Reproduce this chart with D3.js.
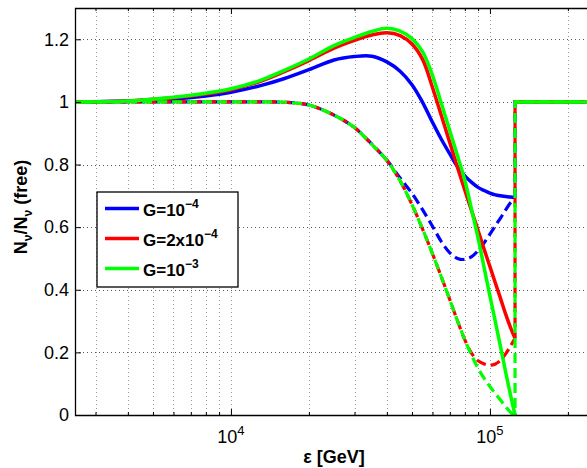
<!DOCTYPE html>
<html>
<head>
<meta charset="utf-8">
<script src="https://cdn.jsdelivr.net/npm/d3@7"></script>
<style>
  body { margin: 0; background: #fff; }
  svg { font-family: "Liberation Sans", Arial, sans-serif; }
</style>
</head>
<body>
<svg width="587" height="468"></svg>
<script>
// energies in GeV
var energy = [2500, 4000, 6000, 8000, 10000, 13000, 16000, 20000, 25000, 30000, 35000, 40000, 45000,
              50000, 55000, 60000, 65000, 70000, 75000, 80000, 85000, 90000, 95000, 100000,
              105000, 110000, 115000, 120000, 125000];

var solidBlue  = [1.0, 1.003, 1.009, 1.019, 1.031, 1.052, 1.074, 1.103, 1.134, 1.145, 1.146, 1.128, 1.098,
                  1.055, 0.998, 0.935, 0.88, 0.834, 0.793, 0.764, 0.743, 0.727, 0.717, 0.709,
                  0.703, 0.70, 0.698, 0.696, 0.695];
var solidRed   = [1.0, 1.003, 1.013, 1.025, 1.039, 1.066, 1.096, 1.132, 1.172, 1.197, 1.214, 1.221, 1.212,
                  1.185, 1.135, 1.046, 0.955, 0.87, 0.79, 0.718, 0.652, 0.589, 0.529, 0.474,
                  0.421, 0.371, 0.322, 0.28, 0.245];
var solidGreen = [1.0, 1.003, 1.015, 1.028, 1.042, 1.069, 1.10, 1.137, 1.18, 1.206, 1.225, 1.235, 1.226,
                  1.202, 1.16, 1.085, 0.994, 0.908, 0.827, 0.75, 0.655, 0.565, 0.47, 0.38,
                  0.297, 0.216, 0.137, 0.065, 0];

var dashedBlue  = [1, 1, 1, 1, 1, 1, 0.999, 0.99, 0.958, 0.918, 0.865, 0.814, 0.757,
                   0.708, 0.655, 0.603, 0.553, 0.518, 0.50, 0.497, 0.506, 0.525, 0.55, 0.578,
                   0.605, 0.63, 0.655, 0.678, 0.695];
var dashedRed   = [1, 1, 1, 1, 1, 1, 0.999, 0.99, 0.958, 0.918, 0.864, 0.813, 0.748,
                   0.672, 0.593, 0.515, 0.44, 0.368, 0.30, 0.24, 0.197, 0.173, 0.163, 0.159,
                   0.163, 0.175, 0.195, 0.22, 0.245];
var dashedGreen = [1, 1, 1, 1, 1, 1, 0.999, 0.99, 0.958, 0.918, 0.864, 0.813, 0.748,
                   0.672, 0.593, 0.515, 0.44, 0.368, 0.30, 0.24, 0.19, 0.149, 0.117, 0.091,
                   0.068, 0.047, 0.027, 0.009, 0];

// above the cut-off every curve is back to 1
var tailEnergy = [125000, 250000];
var tailValue = [1, 1];

var yTicks = [0, 0.2, 0.4, 0.6, 0.8, 1, 1.2];
var xMajor = [1e4, 1e5];
var xMinor = [3000, 4000, 5000, 6000, 7000, 8000, 9000, 20000, 30000, 40000, 50000, 60000,
              70000, 80000, 90000, 200000];
var legendLabels = [["G=10", "\u22124"], ["G=2x10", "\u22124"], ["G=10", "\u22123"]];

var series = [
  { color: "#0000ff", solid: solidBlue, dashed: dashedBlue, offset: 0 },
  { color: "#ff0000", solid: solidRed, dashed: dashedRed, offset: 4 },
  { color: "#00ff00", solid: solidGreen, dashed: dashedGreen, offset: 8 }
];

var svg = d3.select("svg"),
    plotLeft = 75, plotRight = 593, plotTop = 8, plotBottom = 415;

var x = d3.scaleLog().domain([2500, 250000]).range([plotLeft, plotRight]),
    y = d3.scaleLinear().domain([0, 1.3]).range([plotBottom, plotTop]);

// grid
var grid = svg.append("g").attr("stroke", "#555").attr("stroke-width", 1).attr("stroke-dasharray", "1,3");
grid.selectAll(".hg").data(yTicks).enter().append("line")
    .attr("x1", plotLeft).attr("x2", plotRight)
    .attr("y1", function(d) { return Math.round(y(d)) + 0.5; })
    .attr("y2", function(d) { return Math.round(y(d)) + 0.5; });
grid.selectAll(".vg").data(xMajor.concat(xMinor)).enter().append("line")
    .attr("stroke", "#999")
    .attr("y1", plotTop).attr("y2", plotBottom)
    .attr("x1", function(d) { return Math.round(x(d)) + 0.5; })
    .attr("x2", function(d) { return Math.round(x(d)) + 0.5; });

// curves
var line = d3.line()
    .x(function(d) { return x(d[0]); })
    .y(function(d) { return y(d[1]); })
    .curve(d3.curveCatmullRom.alpha(0.5));
var straight = d3.line()
    .x(function(d) { return x(d[0]); })
    .y(function(d) { return y(d[1]); });

var tail = tailEnergy.map(function(e, i) { return [e, tailValue[i]]; });

series.forEach(function(s) {
  var solidPts = energy.map(function(e, i) { return [e, s.solid[i]]; });
  var dashPts = energy.map(function(e, i) { return [e, s.dashed[i]]; });
  svg.append("path").attr("d", line(solidPts))
     .attr("fill", "none").attr("stroke", s.color).attr("stroke-width", 3.5);
  svg.append("path").attr("d", straight(tail))
     .attr("fill", "none").attr("stroke", s.color).attr("stroke-width", 3.5);
  svg.append("path").attr("d", line(dashPts))
     .attr("fill", "none").attr("stroke", s.color).attr("stroke-width", 3.2)
     .attr("stroke-dasharray", "10,5").attr("stroke-dashoffset", s.offset);
  svg.append("path").attr("d", straight([dashPts[dashPts.length - 1]].concat(tail)))
     .attr("fill", "none").attr("stroke", s.color).attr("stroke-width", 3.2)
     .attr("stroke-dasharray", "10,5").attr("stroke-dashoffset", s.offset);
});

// axes (ticks inside, matlab style)
svg.append("g")
   .attr("transform", "translate(" + plotLeft + ",0)")
   .call(d3.axisLeft(y).tickValues(yTicks).tickSizeInner(-6).tickSizeOuter(0).tickPadding(6)
         .tickFormat(function(d) { return d; }))
   .call(function(g) { g.select(".domain").remove(); })
   .call(function(g) { g.selectAll("text").attr("font-size", "18px").attr("fill", "#000")
                         .attr("font-family", "Liberation Sans, Arial, sans-serif"); });

svg.append("g")
   .attr("transform", "translate(0," + plotBottom + ")")
   .call(d3.axisBottom(x).tickValues(xMajor).tickSizeInner(-6).tickSizeOuter(0).tickFormat(""))
   .call(function(g) { g.select(".domain").remove(); });
svg.append("g")
   .attr("transform", "translate(0," + plotBottom + ")")
   .call(d3.axisBottom(x).tickValues(xMinor).tickSizeInner(-3).tickSizeOuter(0).tickFormat(""))
   .call(function(g) { g.select(".domain").remove(); });
svg.append("g")
   .attr("transform", "translate(0," + plotTop + ")")
   .call(d3.axisTop(x).tickValues(xMajor).tickSizeInner(-6).tickSizeOuter(0).tickFormat(""))
   .call(function(g) { g.select(".domain").remove(); });
svg.append("g")
   .attr("transform", "translate(0," + plotTop + ")")
   .call(d3.axisTop(x).tickValues(xMinor).tickSizeInner(-3).tickSizeOuter(0).tickFormat(""))
   .call(function(g) { g.select(".domain").remove(); });

// box
svg.append("path")
   .attr("d", "M" + plotRight + "," + (plotTop + 0.5) + "H" + (plotLeft + 0.5) + "V" + (plotBottom + 0.5) + "H" + plotRight)
   .attr("fill", "none").attr("stroke", "#000").attr("stroke-width", 1.3);

// x tick labels 10^n
xMajor.forEach(function(d) {
  var t = svg.append("text").attr("x", x(d)).attr("y", 443)
     .attr("text-anchor", "middle").attr("font-size", "18px");
  t.append("tspan").text("10");
  t.append("tspan").attr("dy", -8).attr("font-size", "13px").text(Math.round(Math.log10(d)));
});

// axis titles
svg.append("text").attr("x", 334).attr("y", 463).attr("text-anchor", "middle")
   .attr("font-size", "18px").attr("font-weight", "bold").text("\u03b5 [GeV]");

var yl = svg.append("text").attr("transform", "translate(27,207) rotate(-90)")
   .attr("text-anchor", "middle").attr("font-size", "18px").attr("font-weight", "bold");
yl.append("tspan").text("N");
yl.append("tspan").attr("dy", 5).attr("font-size", "12px").text("\u03bd");
yl.append("tspan").attr("dy", -5).text("/N");
yl.append("tspan").attr("dy", 5).attr("font-size", "12px").text("\u03bd");
yl.append("tspan").attr("dy", -5).text(" (free)");

// legend
var lg = svg.append("g").attr("transform", "translate(97,192)");
lg.append("rect").attr("width", 141).attr("height", 95)
  .attr("fill", "#fff").attr("stroke", "#000").attr("stroke-width", 1.3);
series.forEach(function(s, i) {
  var yy = 16.5 + i * 30;
  lg.append("line").attr("x1", 8).attr("x2", 42).attr("y1", yy).attr("y2", yy)
    .attr("stroke", s.color).attr("stroke-width", 3.5);
  var t = lg.append("text").attr("x", 46).attr("y", yy + 7)
    .attr("font-size", "17px").attr("font-weight", "bold");
  t.append("tspan").text(legendLabels[i][0]);
  t.append("tspan").attr("dy", -8).attr("font-size", "12px").text(legendLabels[i][1]);
});
</script>
</body>
</html>
